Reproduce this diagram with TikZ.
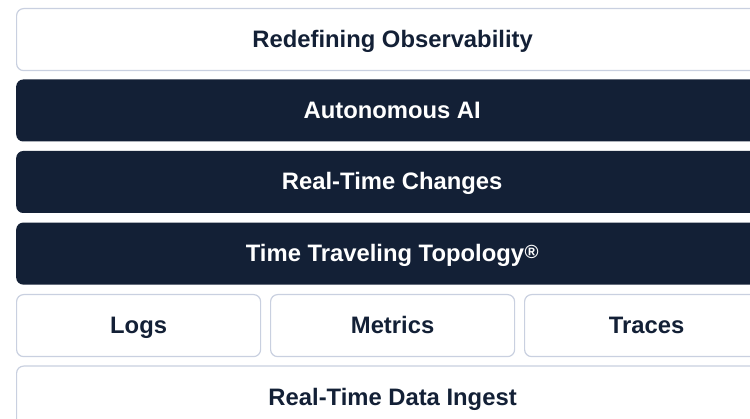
\documentclass[tikz,border=0pt]{standalone}
\usepackage{fontspec}
\setmainfont{Liberation Sans}
\begin{document}
\definecolor{ink}{HTML}{132036}
\definecolor{edge}{HTML}{C9D0E0}
\begin{tikzpicture}[x=1pt,y=-1pt,
  layer/.style={rounded corners=7pt, anchor=north west, minimum height=62pt,
    inner sep=0pt, text height=17pt, text depth=1pt,
    font=\fontsize{23.8}{26}\selectfont\bfseries},
  lightbox/.style={layer, draw=edge, line width=1.2pt, fill=white, text=ink},
  darkbox/.style={layer, fill=ink, text=white},
  wide/.style={minimum width=752pt},
  third/.style={minimum width=244pt}]
\useasboundingbox (0,0) rectangle (750,419);
\clip (0,0) rectangle (750,419);
\fill[white] (0,0) rectangle (750,419);

\node[lightbox, wide] (vision)   at (16,8.0)   {Redefining Observability};
\node[darkbox, wide]  (ai)       at (16,79.3)  {Autonomous AI};
\node[darkbox, wide]  (changes)  at (16,150.8) {Real-Time Changes};
\node[darkbox, wide]  (topology) at (16,222.4) {Time Traveling Topology\hspace{0.5pt}{\fontsize{19}{19}\selectfont\raisebox{3.4pt}{®}}};
\node[lightbox, third] (logs)    at (16,294.0)  {Logs};
\node[lightbox, third] (metrics) at (270,294.0) {Metrics};
\node[lightbox, third] (traces)  at (524,294.0) {Traces};
\node[lightbox, wide] (ingest)   at (16,365.5) {Real-Time Data Ingest};
\end{tikzpicture}
\end{document}
